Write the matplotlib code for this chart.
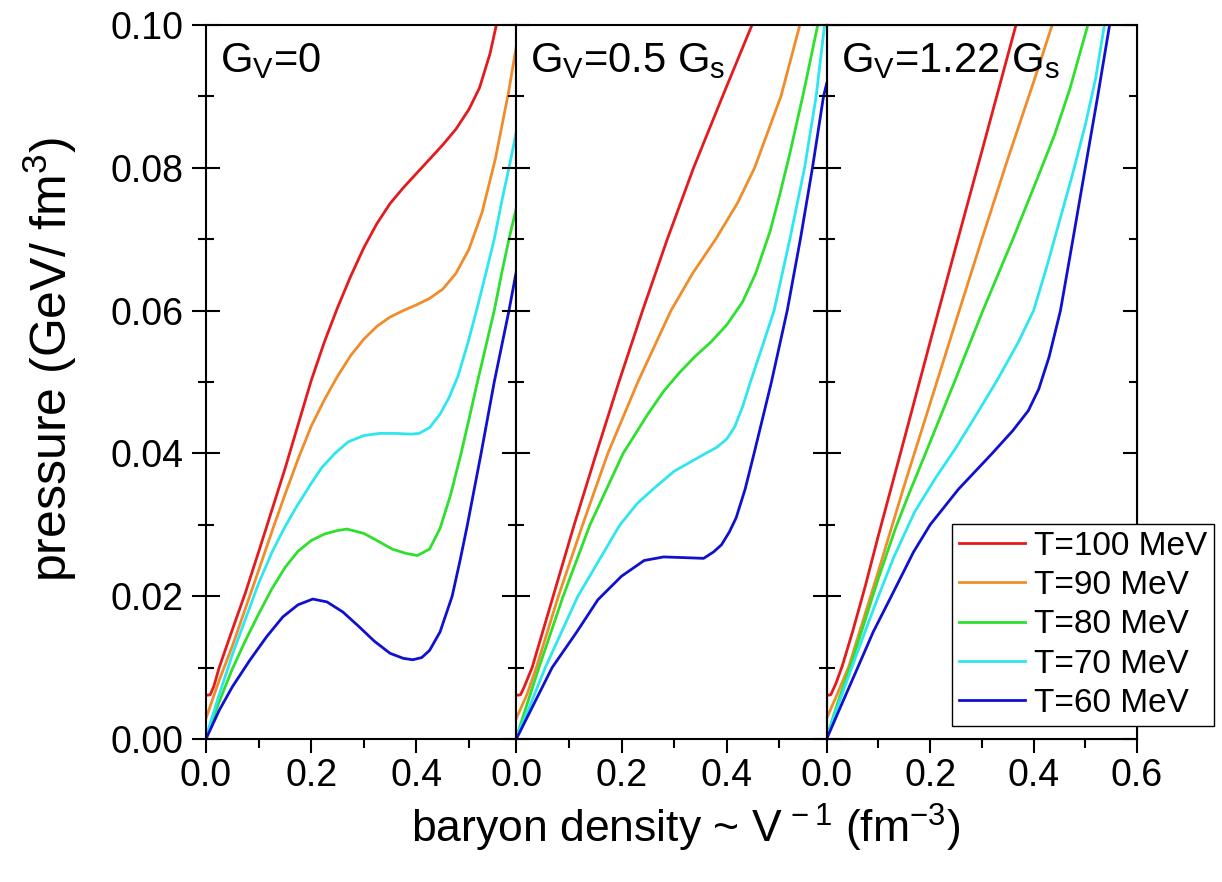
import matplotlib
matplotlib.use("Agg")
import matplotlib.pyplot as plt
from matplotlib.ticker import MultipleLocator

plt.rcParams['font.family'] = ['Liberation Sans', 'DejaVu Sans']
plt.rcParams['mathtext.fontset'] = 'custom'
plt.rcParams['mathtext.rm'] = 'Liberation Sans'
plt.rcParams['mathtext.it'] = 'Liberation Sans'
plt.rcParams['mathtext.default'] = 'regular'

temps = ['T=100 MeV', 'T=90 MeV', 'T=80 MeV', 'T=70 MeV', 'T=60 MeV']
colors = ['#e41a1c', '#f08c2a', '#2ee02e', '#2ee6f0', '#1010d0']
panel_titles = ['G$_V$=0', 'G$_V$=0.5 G$_s$', 'G$_V$=1.22 G$_s$']

# G_V = 0
gv0_x_100 = [0, 0.008, 0.015, 0.025, 0.05, 0.075, 0.1, 0.125, 0.15, 0.175, 0.2, 0.225, 0.25,
             0.275, 0.3, 0.325, 0.35, 0.375, 0.4, 0.425, 0.45, 0.475, 0.5, 0.52, 0.54, 0.552]
gv0_p_100 = [0.0061, 0.0062, 0.0074, 0.0100, 0.0153, 0.0205, 0.0262, 0.0320, 0.0378, 0.0440,
             0.0502, 0.0556, 0.0604, 0.0648, 0.0688, 0.0722, 0.0750, 0.0772, 0.0792, 0.0812,
             0.0832, 0.0854, 0.0882, 0.0912, 0.0960, 0.1000]
gv0_x_90 = [0, 0.025, 0.05, 0.075, 0.1, 0.125, 0.15, 0.175, 0.2, 0.225, 0.25, 0.275, 0.3,
            0.325, 0.35, 0.375, 0.4, 0.425, 0.45, 0.475, 0.5, 0.525, 0.55, 0.575, 0.59]
gv0_p_90 = [0.0029, 0.0082, 0.0130, 0.0183, 0.0236, 0.0290, 0.0342, 0.0392, 0.0438, 0.0475,
            0.0508, 0.0537, 0.0560, 0.0578, 0.0591, 0.0600, 0.0608, 0.0617, 0.0630, 0.0652,
            0.0686, 0.0738, 0.0812, 0.0905, 0.0970]
gv0_x_80 = [0, 0.025, 0.05, 0.075, 0.1, 0.125, 0.15, 0.175, 0.2, 0.225, 0.25, 0.268, 0.3,
            0.325, 0.354, 0.38, 0.402, 0.425, 0.445, 0.465, 0.485, 0.5, 0.516, 0.532, 0.548,
            0.562, 0.576, 0.59]
gv0_p_80 = [0.0002, 0.0052, 0.0098, 0.0138, 0.0175, 0.0210, 0.0240, 0.0263, 0.0278, 0.0287,
            0.0292, 0.0294, 0.0288, 0.0278, 0.0266, 0.0260, 0.0257, 0.0266, 0.0295, 0.0342,
            0.0400, 0.0448, 0.0500, 0.0550, 0.0600, 0.0652, 0.0700, 0.0744]
gv0_x_70 = [0, 0.025, 0.05, 0.075, 0.1, 0.127, 0.15, 0.171, 0.2, 0.22, 0.245, 0.27, 0.3, 0.33,
            0.36, 0.39, 0.405, 0.425, 0.445, 0.462, 0.479, 0.498, 0.516, 0.533, 0.548, 0.562,
            0.576, 0.59]
gv0_p_70 = [0.0003, 0.0062, 0.0118, 0.0168, 0.0218, 0.0264, 0.0297, 0.0324, 0.0358, 0.0380,
            0.0400, 0.0416, 0.0425, 0.0428, 0.0428, 0.0427, 0.0428, 0.0436, 0.0455, 0.0478,
            0.0508, 0.0555, 0.0605, 0.0655, 0.0700, 0.0752, 0.0800, 0.0850]
gv0_x_60 = [0, 0.025, 0.05, 0.083, 0.115, 0.146, 0.175, 0.203, 0.23, 0.26, 0.29, 0.32, 0.35,
            0.375, 0.393, 0.41, 0.425, 0.445, 0.468, 0.483, 0.497, 0.523, 0.548, 0.576, 0.59]
gv0_p_60 = [0, 0.0040, 0.0073, 0.0110, 0.0143, 0.0171, 0.0188, 0.0196, 0.0192, 0.0178, 0.0158,
            0.0137, 0.0120, 0.0113, 0.0111, 0.0114, 0.0124, 0.0150, 0.0200, 0.0250, 0.0300,
            0.0400, 0.0500, 0.0600, 0.0655]

# G_V = 0.5 G_s
gv05_x_100 = [0, 0.008, 0.015, 0.03, 0.07, 0.11, 0.152, 0.195, 0.24, 0.287, 0.337, 0.392, 0.448]
gv05_p_100 = [0.0061, 0.0062, 0.0073, 0.0100, 0.0200, 0.0300, 0.0400, 0.0500, 0.0600, 0.0700,
              0.0800, 0.0900, 0.1000]
gv05_x_90 = [0, 0.02, 0.038, 0.08, 0.126, 0.174, 0.231, 0.294, 0.335, 0.379, 0.42, 0.453, 0.503, 0.539]
gv05_p_90 = [0.0029, 0.0062, 0.0100, 0.0200, 0.0300, 0.0400, 0.0500, 0.0600, 0.0652, 0.0700,
             0.0750, 0.0800, 0.0900, 0.1000]
gv05_x_80 = [0, 0.02, 0.043, 0.089, 0.14, 0.203, 0.25, 0.28, 0.31, 0.34, 0.37, 0.4, 0.43, 0.455,
             0.482, 0.5, 0.52, 0.546, 0.573]
gv05_p_80 = [0.0002, 0.0048, 0.0100, 0.0200, 0.0300, 0.0400, 0.0455, 0.0487, 0.0513, 0.0536,
             0.0556, 0.0580, 0.0612, 0.0652, 0.0710, 0.0760, 0.0820, 0.0905, 0.1000]
gv05_x_70 = [0, 0.025, 0.055, 0.117, 0.197, 0.23, 0.26, 0.3, 0.36, 0.38, 0.4, 0.415, 0.43,
             0.445, 0.47, 0.49, 0.52, 0.548, 0.57, 0.586]
gv05_p_70 = [0.0003, 0.0045, 0.0100, 0.0200, 0.0300, 0.0330, 0.0350, 0.0375, 0.0400, 0.0408,
             0.0420, 0.0437, 0.0465, 0.0500, 0.0555, 0.0600, 0.0700, 0.0800, 0.0900, 0.1000]
gv05_x_60 = [0, 0.034, 0.068, 0.115, 0.155, 0.2, 0.243, 0.28, 0.32, 0.356, 0.375, 0.39, 0.405,
             0.418, 0.435, 0.452, 0.485, 0.515, 0.54, 0.563, 0.584, 0.59]
gv05_p_60 = [0, 0.0050, 0.0100, 0.0150, 0.0195, 0.0228, 0.0250, 0.0255, 0.0254, 0.0253, 0.0262,
             0.0272, 0.0290, 0.0310, 0.0350, 0.0400, 0.0500, 0.0600, 0.0700, 0.0800, 0.0900, 0.0918]

# G_V = 1.22 G_s
gv122_x_100 = [0, 0.008, 0.018, 0.03, 0.05, 0.075, 0.1, 0.15, 0.2, 0.25, 0.3, 0.366]
gv122_p_100 = [0.0061, 0.0062, 0.0078, 0.0102, 0.0150, 0.0215, 0.0285, 0.0420, 0.0556, 0.0690,
               0.0823, 0.1000]
gv122_x_90 = [0, 0.02, 0.043, 0.07, 0.1, 0.15, 0.2, 0.252, 0.3, 0.35, 0.4, 0.436]
gv122_p_90 = [0.0029, 0.0062, 0.0102, 0.0165, 0.0235, 0.0355, 0.0470, 0.0590, 0.0700, 0.0812,
              0.0920, 0.1000]
gv122_x_80 = [0, 0.02, 0.046, 0.075, 0.1, 0.133, 0.16, 0.19, 0.247, 0.302, 0.36, 0.41, 0.44,
              0.47, 0.505]
gv122_p_80 = [0.0002, 0.0048, 0.0102, 0.0168, 0.0225, 0.0295, 0.0345, 0.0398, 0.0500, 0.0600,
              0.0700, 0.0790, 0.0845, 0.0910, 0.1000]
gv122_x_70 = [0, 0.025, 0.05, 0.075, 0.1, 0.13, 0.17, 0.21, 0.25, 0.29, 0.33, 0.37, 0.4, 0.425,
              0.45, 0.475, 0.5, 0.52, 0.537]
gv122_p_70 = [0.0003, 0.0053, 0.0103, 0.0152, 0.0200, 0.0255, 0.0318, 0.0365, 0.0408, 0.0455,
              0.0503, 0.0555, 0.0600, 0.0660, 0.0725, 0.0790, 0.0860, 0.0925, 0.1000]
gv122_x_60 = [0, 0.025, 0.06, 0.09, 0.125, 0.168, 0.2, 0.255, 0.32, 0.36, 0.39, 0.41, 0.43,
              0.452, 0.475, 0.5, 0.524, 0.547]
gv122_p_60 = [0, 0.0042, 0.0100, 0.0150, 0.0200, 0.0262, 0.0300, 0.0350, 0.0400, 0.0432, 0.0460,
              0.0490, 0.0535, 0.0600, 0.0695, 0.0800, 0.0900, 0.1000]

panels = [
    [(gv0_x_100, gv0_p_100), (gv0_x_90, gv0_p_90), (gv0_x_80, gv0_p_80),
     (gv0_x_70, gv0_p_70), (gv0_x_60, gv0_p_60)],
    [(gv05_x_100, gv05_p_100), (gv05_x_90, gv05_p_90), (gv05_x_80, gv05_p_80),
     (gv05_x_70, gv05_p_70), (gv05_x_60, gv05_p_60)],
    [(gv122_x_100, gv122_p_100), (gv122_x_90, gv122_p_90), (gv122_x_80, gv122_p_80),
     (gv122_x_70, gv122_p_70), (gv122_x_60, gv122_p_60)],
]
xmax = [0.59, 0.59, 0.6]

W, H = 1222, 882
fig = plt.figure(figsize=(W / 100, H / 100), dpi=100)

left, right_edge, top, bottom = 206, 1137, 25, 739
pw = (right_edge - left) / 3

axes = []
for i in range(3):
    ax = fig.add_axes([(left + i * pw) / W, 1 - bottom / H, pw / W, (bottom - top) / H])
    for (x, p), c, lab in zip(panels[i], colors, temps):
        ax.plot(x, p, color=c, lw=2.0, label=lab, solid_joinstyle='round')
    ax.set_xlim(0, xmax[i])
    ax.set_ylim(0, 0.10)
    ax.xaxis.set_major_locator(MultipleLocator(0.2))
    ax.xaxis.set_minor_locator(MultipleLocator(0.1))
    ax.yaxis.set_major_locator(MultipleLocator(0.02))
    ax.yaxis.set_minor_locator(MultipleLocator(0.01))
    ax.tick_params(axis='x', which='major', direction='out', length=10, width=1.5,
                   labelsize=27, pad=4, top=False)
    ax.tick_params(axis='x', which='minor', direction='out', length=6.5, width=1.5, top=False)
    ax.tick_params(axis='y', which='major', direction='inout', length=20, width=1.5,
                   labelsize=27, pad=6, right=False)
    ax.tick_params(axis='y', which='minor', direction='inout', length=11, width=1.5, right=False)
    ax.xaxis.set_major_formatter(plt.FuncFormatter(lambda v, pos: f'{v:.1f}'))
    ax.yaxis.set_major_formatter(plt.FuncFormatter(lambda v, pos: f'{v:.2f}'))
    if i > 0:
        ax.tick_params(axis='y', labelleft=False)
    for s in ax.spines.values():
        s.set_linewidth(1.5)
    ax.text(0.045, 0.978, panel_titles[i], transform=ax.transAxes, fontsize=30,
            ha='left', va='top')
    axes.append(ax)

# inward ticks on the outer right edge
axr = axes[2].twinx()
axr.set_ylim(0, 0.10)
axr.yaxis.set_major_locator(MultipleLocator(0.02))
axr.yaxis.set_minor_locator(MultipleLocator(0.01))
axr.tick_params(axis='y', which='major', direction='in', length=10, width=1.5, labelright=False)
axr.tick_params(axis='y', which='minor', direction='in', length=6, width=1.5)

fig.text(50 / W, 1 - 359 / H, 'pressure (GeV/ fm$^3$)', rotation=90, fontsize=36,
         ha='center', va='center')
fig.text(686 / W, 1 - 828 / H, 'baryon density ~ V$^{\\,-1}$ (fm$^{-3}$)', fontsize=32,
         ha='center', va='center')

handles, labels = axes[2].get_legend_handles_labels()
leg = fig.legend(handles, labels, loc='upper left', bbox_to_anchor=(952 / W, 1 - 524 / H),
                 fontsize=24, frameon=True, fancybox=False, edgecolor='black',
                 framealpha=1, handlelength=2.0, handletextpad=0.25, labelspacing=0.25,
                 borderpad=0.2, borderaxespad=0)
leg.get_frame().set_linewidth(1.0)

fig.savefig('out.png', dpi=100)
